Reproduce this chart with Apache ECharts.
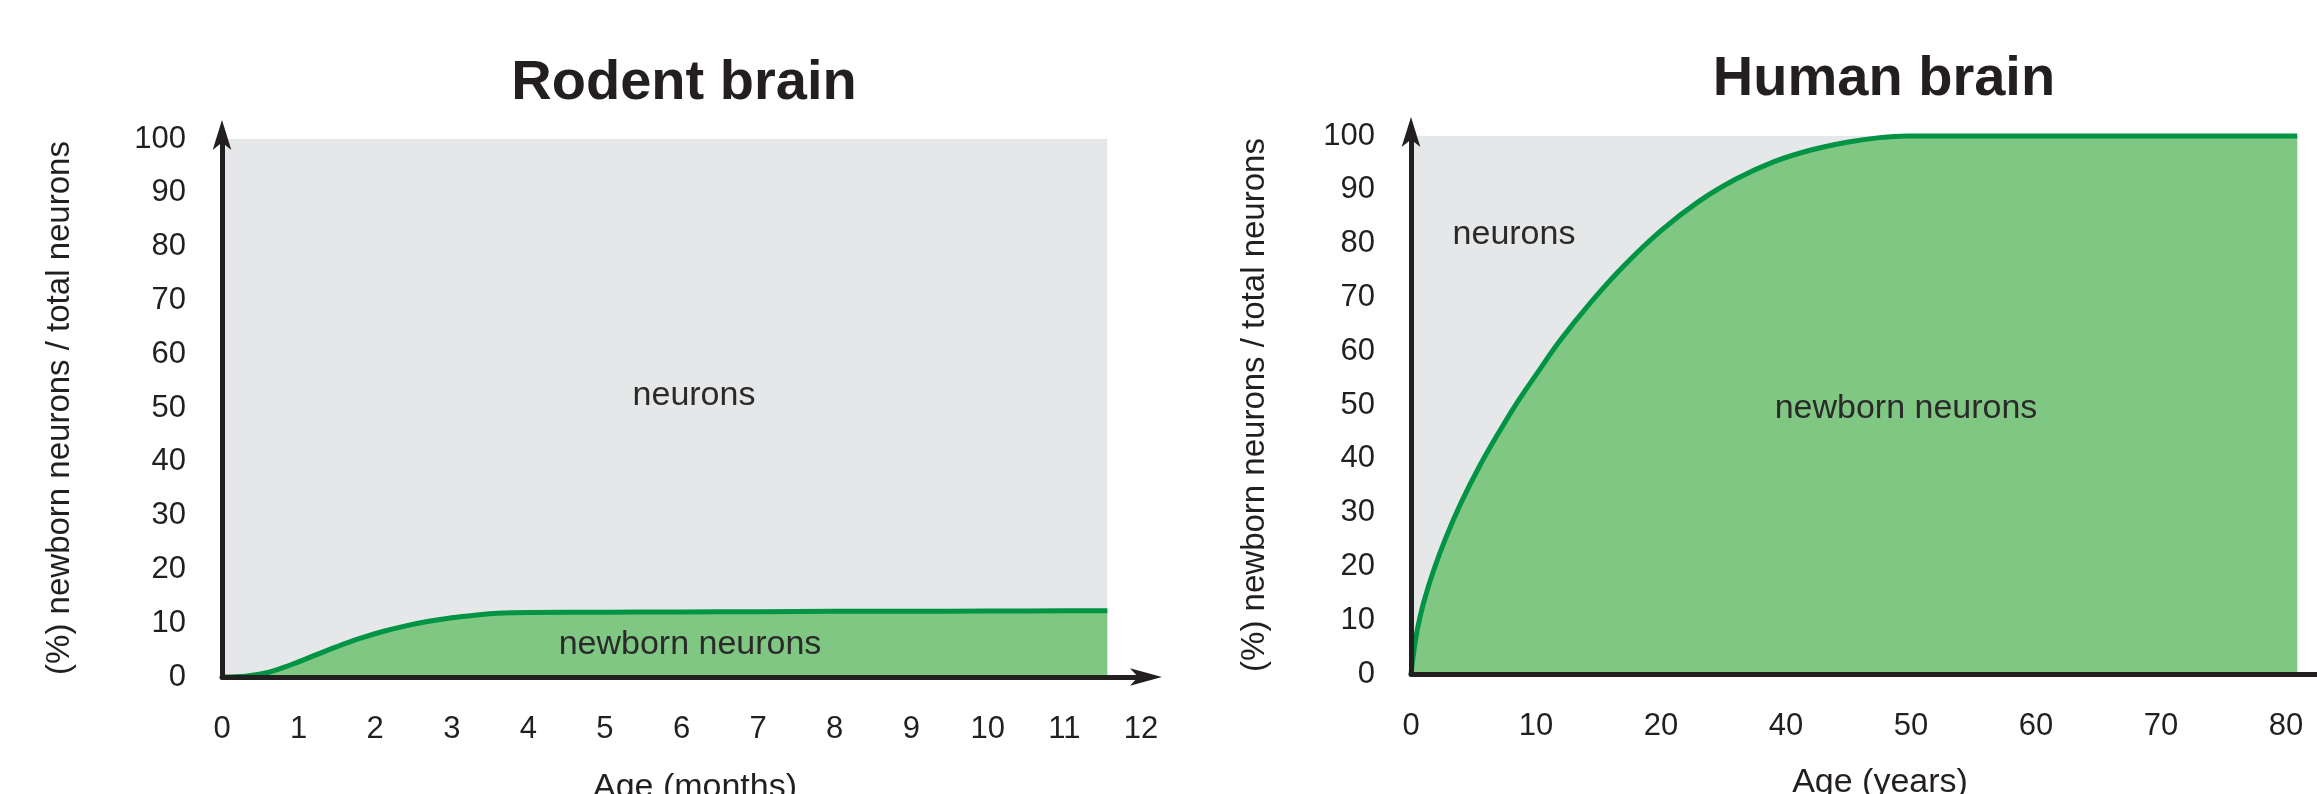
<!DOCTYPE html>
<html>
<head>
<meta charset="utf-8">
<title>Rodent brain / Human brain</title>
<script src="https://cdn.jsdelivr.net/npm/echarts@6/dist/echarts.min.js"></script>
<style>
    html, body { margin: 0; padding: 0; background: #fff; }
    #main { width: 2317px; height: 794px; }
</style>
</head>
<body>
<div id="main"></div>
<script>
// rodent brain: age in months, % newborn neurons
var rodentAge = [0, 0.3, 0.6, 0.9, 1.2, 1.5, 1.8, 2.1, 2.4, 2.7, 3.0, 3.3, 3.6, 4, 5, 6, 7, 8, 9, 10, 11, 11.56];
var rodentNewborn = [0, 0.15, 0.84, 2.28, 3.96, 5.64, 7.17, 8.46, 9.51, 10.35, 11.01, 11.49, 11.85, 12.0, 12.05, 12.1, 12.15, 12.2, 12.2, 12.25, 12.3, 12.3];

// human brain: x is the position along the printed axis (one step per tick label)
var humanTicks = ['0', '10', '20', '40', '50', '60', '70', '80'];
var humanPos = [0, 0.02, 0.05, 0.1, 0.18, 0.28, 0.4, 0.55, 0.7, 0.85, 1.0, 1.2, 1.45, 1.7, 2.0, 2.3, 2.6, 2.9, 3.2, 3.5, 3.75, 3.97, 5, 6, 7.09];
var humanNewborn = [0, 3.8, 8.2, 13.2, 19.2, 25.4, 31.8, 38.7, 44.8, 50.5, 55.6, 62.2, 69.4, 75.8, 82.4, 87.8, 92.0, 95.2, 97.4, 98.9, 99.7, 100, 100, 100, 100];

var yTicks = [0, 10, 20, 30, 40, 50, 60, 70, 80, 90, 100];
var totalPct = 100;

var ink = '#231f20';
var grey = '#e6e7e8';
var greenLine = '#009444';
var greenFill = '#80c783';
var fam = '"Liberation Sans", Arial, Helvetica, sans-serif';

function pairs(xs, ys) {
    return xs.map(function (x, i) { return [x, ys[i]]; });
}
// the grey part is all neurons (100 %) over the drawn age range
function totalArea(xs) {
    return [[xs[0], totalPct], [xs[xs.length - 1], totalPct]];
}

var myChart = echarts.init(document.getElementById('main'), null, { renderer: 'canvas' });

function yAxisOpt(gridIndex, gap) {
    return {
        type: 'value',
        gridIndex: gridIndex,
        z: 10,
        min: yTicks[0],
        max: yTicks[yTicks.length - 1],
        interval: 10,
        name: '(%) newborn neurons / total neurons',
        nameLocation: 'middle',
        nameGap: gap,
        nameMoveOverlap: false,
        nameTextStyle: { fontSize: 33, color: ink, fontFamily: fam },
        axisLine: {
            show: true,
            onZero: false,
            lineStyle: { color: ink, width: 5 },
            symbol: ['none', 'arrow'],
            symbolSize: [14, 30],
            symbolOffset: [0, 19]
        },
        axisTick: { show: false },
        splitLine: { show: false },
        axisLabel: { fontSize: 31, color: ink, fontFamily: fam, margin: 36 }
    };
}

var labelFont = '34px ' + fam;
function note(text, x, y) {
    return {
        type: 'text', x: x, y: y, z: 100,
        style: {
            text: text, font: labelFont, fill: '#2a2a2a',
            textAlign: 'center', align: 'center',
            textVerticalAlign: 'middle', verticalAlign: 'middle'
        }
    };
}
function heading(text, x, y) {
    return {
        type: 'text', x: x, y: y, z: 100,
        style: {
            text: text, font: 'bold 56px ' + fam, fill: ink,
            textAlign: 'center', align: 'center',
            textVerticalAlign: 'middle', verticalAlign: 'middle'
        }
    };
}

myChart.setOption({
    animation: false,
    backgroundColor: '#fff',
    grid: [
        { left: 222, top: 139, width: 919, height: 538, outerBoundsMode: 'none', containLabel: false },
        { left: 1411, top: 136, width: 925, height: 538, outerBoundsMode: 'none', containLabel: false }
    ],
    xAxis: [
        {
            type: 'value', gridIndex: 0, z: 10, min: 0, max: 12, interval: 1,
            name: 'Age (months)', nameLocation: 'middle', nameGap: 94, nameMoveOverlap: false,
            nameTextStyle: { fontSize: 34, color: ink, fontFamily: fam, padding: [0, 0, 0, 27] },
            axisLine: {
                show: true,
                onZero: false,
                lineStyle: { color: ink, width: 5 },
                symbol: ['none', 'arrow'],
                symbolSize: [13, 32],
                symbolOffset: [0, 21]
            },
            axisTick: { show: false },
            splitLine: { show: false },
            axisLabel: { fontSize: 31, color: ink, fontFamily: fam, margin: 37 }
        },
        {
            type: 'value', gridIndex: 1, z: 10, min: 0, max: 7.4, interval: 1,
            name: 'Age (years)', nameLocation: 'middle', nameGap: 92, nameMoveOverlap: false,
            nameTextStyle: { fontSize: 34, color: ink, fontFamily: fam, padding: [0, 0, 0, 13] },
            axisLine: { show: true, onZero: false, lineStyle: { color: ink, width: 5 } },
            axisTick: { show: false },
            splitLine: { show: false },
            axisLabel: {
                fontSize: 31, color: ink, fontFamily: fam, margin: 37,
                showMaxLabel: false,
                formatter: function (v) {
                    return Number.isInteger(v) && humanTicks[v] != null ? humanTicks[v] : '';
                }
            }
        }
    ],
    yAxis: [yAxisOpt(0, 146), yAxisOpt(1, 140)],
    series: [
        {
            name: 'neurons', type: 'line', xAxisIndex: 0, yAxisIndex: 0,
            data: totalArea(rodentAge), symbol: 'none', z: 1,
            lineStyle: { width: 0 }, areaStyle: { color: grey, opacity: 1 }
        },
        {
            name: 'newborn neurons', type: 'line', xAxisIndex: 0, yAxisIndex: 0,
            data: pairs(rodentAge, rodentNewborn), symbol: 'none', z: 2,
            smooth: 0.4, clip: false,
            lineStyle: { color: greenLine, width: 5 },
            areaStyle: { color: greenFill, opacity: 1 }
        },
        {
            name: 'neurons', type: 'line', xAxisIndex: 1, yAxisIndex: 1,
            data: totalArea(humanPos), symbol: 'none', z: 1,
            lineStyle: { width: 0 }, areaStyle: { color: grey, opacity: 1 }
        },
        {
            name: 'newborn neurons', type: 'line', xAxisIndex: 1, yAxisIndex: 1,
            data: pairs(humanPos, humanNewborn), symbol: 'none', z: 2,
            smooth: 0.4, clip: false,
            lineStyle: { color: greenLine, width: 5 },
            areaStyle: { color: greenFill, opacity: 1 }
        }
    ],
    graphic: [
        heading('Rodent brain', 684, 84),
        heading('Human brain', 1884, 80),
        note('neurons', 694, 396),
        note('newborn neurons', 690, 645),
        note('neurons', 1514, 235),
        note('newborn neurons', 1906, 409)
    ]
});
</script>
</body>
</html>
